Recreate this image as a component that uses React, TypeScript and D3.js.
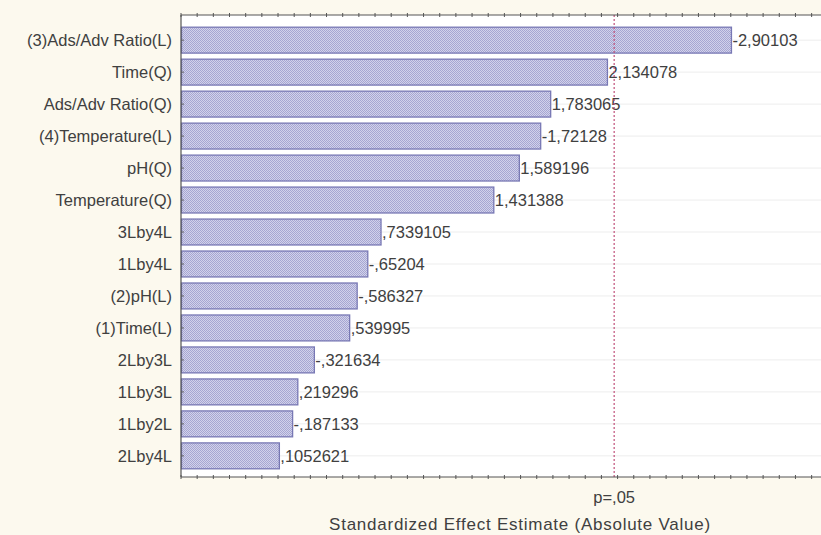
import React from "react";
import * as d3 from "d3";

const categories = [
  "(3)Ads/Adv Ratio(L)",
  "Time(Q)",
  "Ads/Adv Ratio(Q)",
  "(4)Temperature(L)",
  "pH(Q)",
  "Temperature(Q)",
  "3Lby4L",
  "1Lby4L",
  "(2)pH(L)",
  "(1)Time(L)",
  "2Lby3L",
  "1Lby3L",
  "1Lby2L",
  "2Lby4L",
];
const effects = [
  -2.90103, 2.134078, 1.783065, -1.72128, 1.589196, 1.431388, 0.7339105,
  -0.65204, -0.586327, 0.539995, -0.321634, 0.219296, -0.187133, 0.1052621,
];
const xDomain = [-0.5, 3.5];
const pCrit = 2.1788;
const pLabel = "p=,05";
const xTitle = "Standardized Effect Estimate (Absolute Value)";

const W = 821;
const H = 535;
const left = 181;
const top = 15;
const bottom = 477;

const fmt = (v: number) => String(v).replace(/^(-?)0\./, "$1.").replace(".", ",");

export default function App() {
  const x = d3.scaleLinear().domain(xDomain).range([left, left + 4 * 161.7]);
  const y = d3
    .scaleBand<string>()
    .domain(categories)
    .range([24, 472])
    .paddingInner(0.19)
    .paddingOuter(0.1);
  const minor = d3.range(xDomain[0], xDomain[1] + 0.001, 0.1);
  const font = "'Liberation Sans', Arial, sans-serif";
  const txt = "#404040";
  return (
    <svg
      width={W}
      height={H}
      style={{ position: "absolute", left: 0, top: 0 }}
      fontFamily={font}
    >
      <defs>
        <pattern id="hatch" width={2} height={2} patternUnits="userSpaceOnUse">
          <rect width={2} height={2} fill="#d2d2ea" />
          <rect width={1} height={1} fill="#a6a6d2" />
          <rect x={1} y={1} width={1} height={1} fill="#a6a6d2" />
        </pattern>
      </defs>
      <rect width={W} height={H} fill="#fcf9ee" />
      <rect x={left} y={top} width={W - left} height={bottom - top} fill="#ffffff" />
      {categories.map((c) => (
        <line
          key={"g" + c}
          x1={left}
          x2={W}
          y1={y(c)! + y.bandwidth() / 2}
          y2={y(c)! + y.bandwidth() / 2}
          stroke="#ededed"
          strokeWidth={1}
        />
      ))}
      {categories.map((c, i) => {
        const v = Math.abs(effects[i]);
        const x0 = x(xDomain[0]);
        const x1 = x(v);
        const yc = y(c)! + y.bandwidth() / 2;
        return (
          <g key={c}>
            <rect
              x={x0 + 0.5}
              y={y(c)!}
              width={x1 - x0}
              height={y.bandwidth()}
              fill="url(#hatch)"
              stroke="#7878b4"
              strokeWidth={1.3}
            />
            <text x={x1 + 1.5} y={yc + 6} fontSize={16.5} fill={txt}>
              {fmt(effects[i])}
            </text>
            <text x={172} y={yc + 6} fontSize={16.5} fill={txt} textAnchor="end">
              {c}
            </text>
            <line x1={left} x2={left + 3} y1={yc} y2={yc} stroke="#666" />
          </g>
        );
      })}
      <line
        x1={x(pCrit)}
        x2={x(pCrit)}
        y1={top}
        y2={bottom}
        stroke="#c0507a"
        strokeWidth={1.2}
        strokeDasharray="2,2"
      />
      <line x1={left} x2={W} y1={top} y2={top} stroke="#555" strokeWidth={1.2} />
      <line x1={left} x2={W} y1={bottom} y2={bottom} stroke="#555" strokeWidth={1.2} />
      <line x1={left} x2={left} y1={top} y2={bottom} stroke="#555" strokeWidth={1.2} />
      {minor.map((t, i) => (
        <g key={"t" + i}>
          <line x1={x(t)} x2={x(t)} y1={top - 2} y2={top + 2} stroke="#555" />
          <line x1={x(t)} x2={x(t)} y1={bottom - 2} y2={bottom + 2} stroke="#555" />
        </g>
      ))}
      <text x={x(pCrit)} y={503} fontSize={16.5} fill={txt} textAnchor="middle">
        {pLabel}
      </text>
      <text
        x={520}
        y={530}
        fontSize={17}
        fill={txt}
        textAnchor="middle"
        letterSpacing={0.75}
      >
        {xTitle}
      </text>
    </svg>
  );
}
